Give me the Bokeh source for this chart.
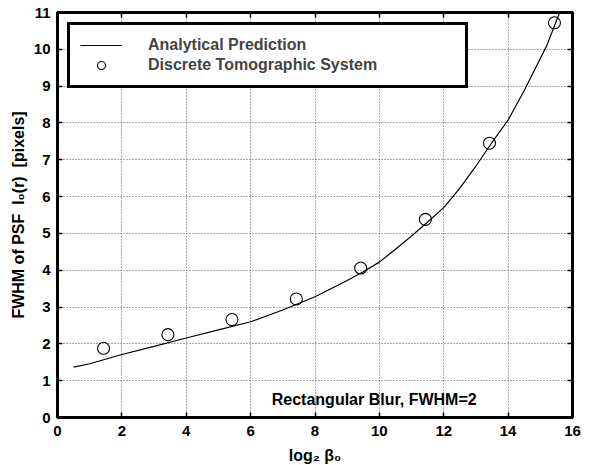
from bokeh.plotting import figure
from bokeh.models import LinearAxis, FixedTicker, Label, Range1d, Legend, LegendItem
from bokeh.embed import file_html
from bokeh.resources import INLINE

# ---- data ----
curve_x = [0.5, 1, 2, 3, 4, 5, 6, 7, 8, 9, 9.5, 10, 10.5, 11, 11.5, 12, 12.5, 13, 13.5,
           14, 14.5, 15, 15.2, 15.6]
curve_y = [1.37, 1.46, 1.71, 1.93, 2.16, 2.38, 2.60, 2.92, 3.28, 3.72, 3.96, 4.22, 4.57,
           4.93, 5.31, 5.70, 6.23, 6.83, 7.47, 8.08, 8.88, 9.75, 10.1, 11.0]

sys_x = [1.43, 3.43, 5.42, 7.42, 9.42, 11.43, 13.42, 15.44]
sys_y = [1.88, 2.25, 2.66, 3.22, 4.06, 5.38, 7.45, 10.72]

x_ticks = [0, 2, 4, 6, 8, 10, 12, 14, 16]
y_ticks = [0, 1, 2, 3, 4, 5, 6, 7, 8, 9, 10, 11]

series_names = ["Analytical Prediction", "Discrete Tomographic System"]
note_text = "Rectangular Blur, FWHM=2"
note_pos = (9.84, 0.49)

FONT = "Liberation Sans"
NB = "\u00a0"

p = figure(frame_width=515, frame_height=405,
           x_range=Range1d(0, 16), y_range=Range1d(0, 11),
           output_backend="svg", toolbar_location=None,
           min_border_left=57, min_border_top=12, min_border_right=10, min_border_bottom=44,
           background_fill_color="white", border_fill_color="white")

p.outline_line_color = "black"
p.outline_line_alpha = 1
p.outline_line_width = 3

r_line = p.line(curve_x, curve_y, line_color="black", line_width=1.2)
r_pts = p.scatter(sys_x, sys_y, marker="circle", size=12, fill_color=None,
                  line_color="black", line_width=1.1)

p.xaxis[0].ticker = FixedTicker(ticks=x_ticks)
p.yaxis[0].ticker = FixedTicker(ticks=y_ticks)
for ax in (p.xaxis[0], p.yaxis[0]):
    ax.axis_line_width = 3
    ax.axis_line_color = "black"
    ax.axis_line_alpha = 1
    ax.major_tick_in = 5
    ax.major_tick_out = 0
    ax.major_tick_line_width = 1.5
    ax.major_tick_line_color = "black"
    ax.minor_tick_line_color = None
    ax.major_label_text_font = FONT
    ax.major_label_text_font_style = "bold"
    ax.major_label_text_font_size = "15px"
    ax.major_label_text_color = "black"
    ax.axis_label_text_font = FONT
    ax.axis_label_text_font_style = "bold"
    ax.axis_label_text_font_size = "16px"
    ax.axis_label_text_color = "black"

p.xaxis[0].axis_label = "log\u2082 \u03b2\u2080"
p.yaxis[0].axis_label = "FWHM of PSF" + NB * 2 + "l\u2080(r)" + NB * 2 + "[pixels]"
p.xaxis[0].major_label_standoff = 8
p.yaxis[0].major_label_standoff = 7
p.xaxis[0].axis_label_standoff = 8
p.yaxis[0].axis_label_standoff = 4

top_ax = LinearAxis(ticker=FixedTicker(ticks=x_ticks))
right_ax = LinearAxis(ticker=FixedTicker(ticks=y_ticks))
for ax, ticks in ((top_ax, x_ticks), (right_ax, y_ticks)):
    ax.axis_line_width = 3
    ax.axis_line_color = "black"
    ax.major_tick_in = 5
    ax.major_tick_out = 0
    ax.major_tick_line_width = 1.5
    ax.minor_tick_line_color = None
    ax.major_label_overrides = {t: "" for t in ticks}
    ax.major_label_standoff = 0
p.add_layout(top_ax, "above")
p.add_layout(right_ax, "right")

# grid
p.xgrid.ticker = FixedTicker(ticks=x_ticks)
p.ygrid.ticker = FixedTicker(ticks=y_ticks)
p.grid.grid_line_color = "#555555"
p.grid.grid_line_alpha = 1
p.grid.grid_line_dash = "1 2"
p.grid.grid_line_width = 1

# annotation
note = Label(x=note_pos[0], y=note_pos[1], text=note_text, text_align="center",
             text_baseline="middle", text_font=FONT, text_font_style="bold",
             text_font_size="16px", text_color="black")
p.add_layout(note)

# legend
legend = Legend(items=[LegendItem(label=series_names[0], renderers=[r_line]),
                       LegendItem(label=series_names[1], renderers=[r_pts])],
                location="top_left")
legend.margin = 10
legend.padding = 10
legend.spacing = 0
legend.glyph_width = 42
legend.glyph_height = 20
legend.label_height = 20
legend.label_width = 307
legend.label_standoff = 26
legend.label_text_font = FONT
legend.label_text_font_style = "bold"
legend.label_text_font_size = "16px"
legend.border_line_color = "black"
legend.border_line_alpha = 1
legend.border_line_width = 3
legend.background_fill_color = "white"
legend.background_fill_alpha = 1
p.add_layout(legend)

open("out.html", "w").write(file_html(p, INLINE))
